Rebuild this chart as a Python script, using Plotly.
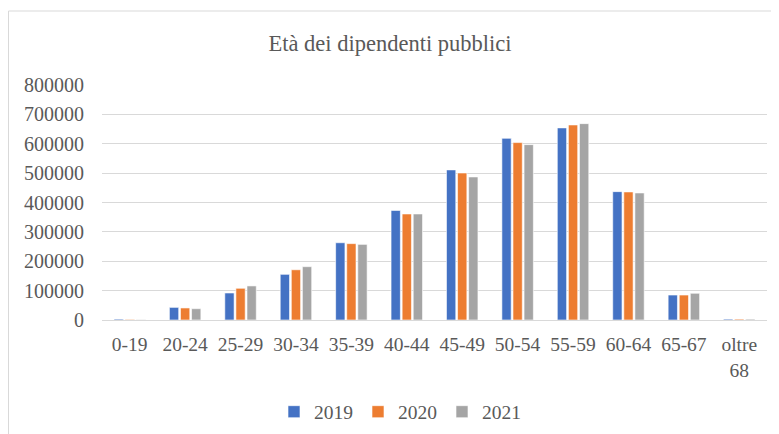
import plotly.graph_objects as go

categories = ["0-19", "20-24", "25-29", "30-34", "35-39", "40-44", "45-49",
              "50-54", "55-59", "60-64", "65-67", "oltre<br>68"]
v2019 = [3000, 43000, 92000, 155500, 263000, 373000, 511000, 618500, 654000, 437000, 85000, 3000]
v2020 = [2000, 41000, 108000, 171000, 260000, 361000, 500500, 604000, 664000, 436000, 85000, 3000]
v2021 = [1000, 38500, 116000, 181500, 257500, 361000, 487000, 597000, 668500, 432500, 91000, 3000]
series_names = ["2019", "2020", "2021"]
colors = ["#4472C4", "#ED7D31", "#A5A5A5"]

fig = go.Figure()
for name, vals, c in zip(series_names, [v2019, v2020, v2021], colors):
    fig.add_trace(go.Bar(x=categories, y=vals, name=name, marker_color=c,
                         marker_line_color="white", marker_line_width=0.6))

OFF = 8  # page body margin
W, H = 779 - OFF, 434 - OFF
L, R, T, B = 102 - OFF, 779 - 767, 85 - OFF, 434 - 320
pw, ph = W - L - R, H - T - B

def px_x(p):
    return (p - OFF - L) / pw

def px_y(p):
    return (H - B - (p - OFF)) / ph

FONT = "Liberation Serif"

fig.update_layout(
    width=W, height=H,
    margin=dict(l=L, r=R, t=T, b=B, autoexpand=False),
    paper_bgcolor="white", plot_bgcolor="white",
    font=dict(family=FONT, color="#595959", size=19),
    title=dict(text="Età dei dipendenti pubblici", x=px_x(390) * pw / W + L / W,
               xanchor="center",
               y=1 - (43 - OFF) / H, yanchor="middle", yref="container",
               font=dict(family=FONT, size=22.5, color="#595959")),
    barmode="group", bargap=0.4, bargroupgap=0.16,
    legend=dict(orientation="h", x=px_x(400), xanchor="center",
                y=px_y(412), yanchor="middle", font=dict(family=FONT, size=19.5),
                itemwidth=30, traceorder="normal"),
    showlegend=True,
    shapes=[dict(type="rect", xref="paper", yref="paper",
                 x0=px_x(8.5), x1=px_x(800), y0=px_y(445), y1=px_y(11),
                 line=dict(color="#D9D9D9", width=1), fillcolor="rgba(0,0,0,0)",
                 layer="below")],
)
fig.update_yaxes(range=[0, 800000], dtick=100000, tickformat="d",
                 gridcolor="#D9D9D9", gridwidth=1, zeroline=False, automargin=False,
                 ticks="", ticklabelstandoff=17, showline=False,
                 tickfont=dict(family=FONT, size=20))
fig.update_xaxes(showline=True, linecolor="#D9D9D9", ticks="", showgrid=False,
                 automargin=False, ticklabelstandoff=7,
                 tickfont=dict(family=FONT, size=19.5))

fig.write_html("out.html")
